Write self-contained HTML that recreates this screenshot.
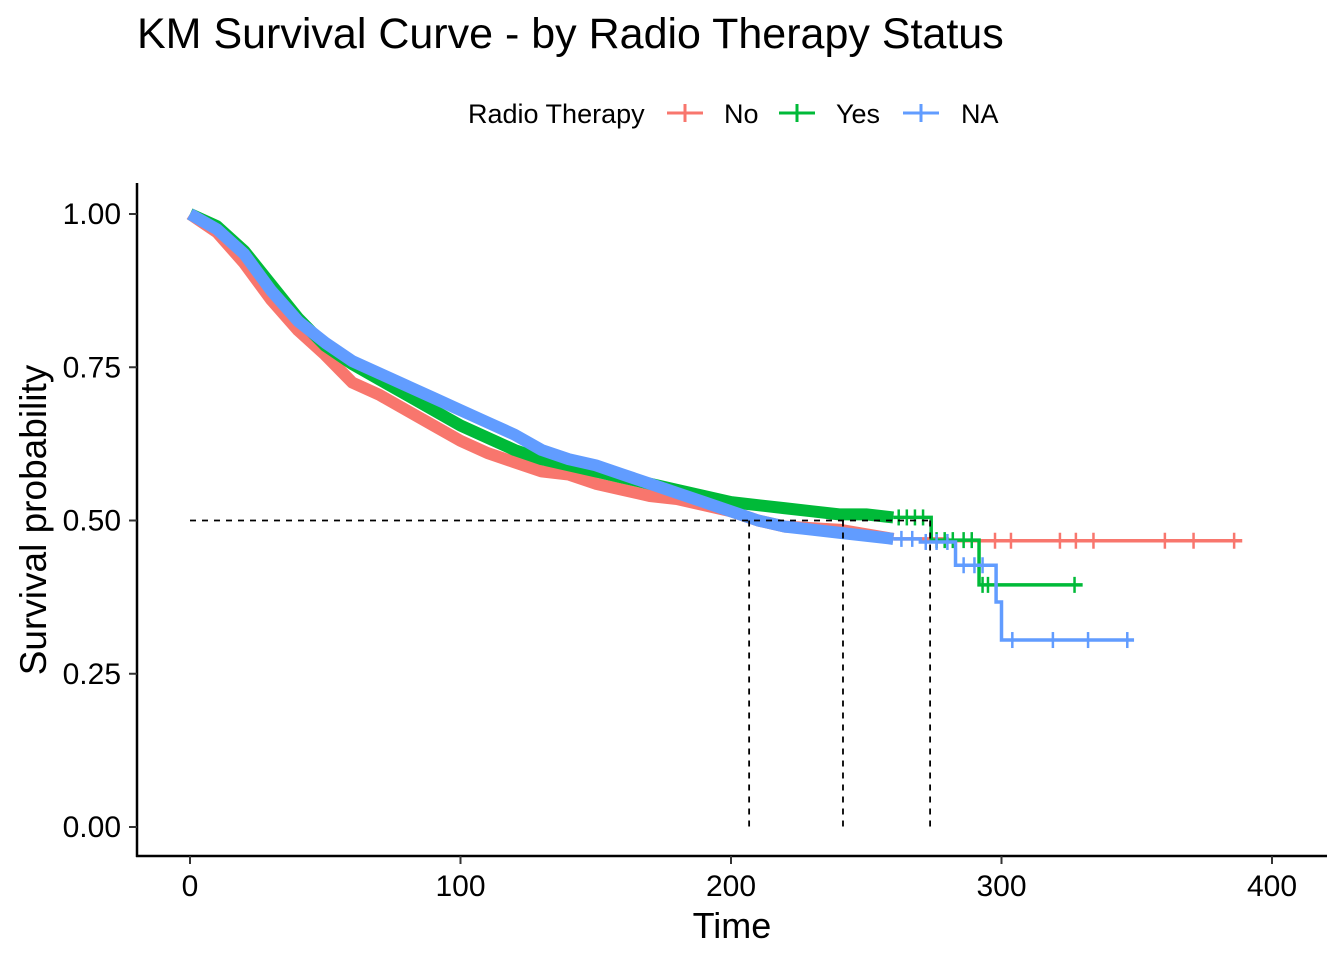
<!DOCTYPE html>
<html><head><meta charset="utf-8"><style>
body{margin:0;background:#fff}
svg{display:block;font-family:"Liberation Sans",Arial,sans-serif}
</style></head><body>
<svg id="chart" width="1344" height="960" viewBox="0 0 1344 960">
<text x="137" y="48" font-size="43" fill="#000">KM Survival Curve - by Radio Therapy Status</text>
<g>
<text x="468" y="123" font-size="27">Radio Therapy</text>
<g><line x1="667" y1="113" x2="703" y2="113" stroke="#F8766D" stroke-width="3"/><line x1="685" y1="104" x2="685" y2="122" stroke="#F8766D" stroke-width="3"/><text x="724" y="123" font-size="27">No</text></g>
<g><line x1="779" y1="113" x2="815" y2="113" stroke="#00BA38" stroke-width="3"/><line x1="797" y1="104" x2="797" y2="122" stroke="#00BA38" stroke-width="3"/><text x="836" y="123" font-size="27">Yes</text></g>
<g><line x1="903" y1="113" x2="939" y2="113" stroke="#619CFF" stroke-width="3"/><line x1="921" y1="104" x2="921" y2="122" stroke="#619CFF" stroke-width="3"/><text x="961" y="123" font-size="27">NA</text></g>
</g>
<g id="plot"></g>
<text x="732" y="938" font-size="36" text-anchor="middle">Time</text>
<text transform="translate(46,520) rotate(-90)" font-size="37" text-anchor="middle">Survival probability</text>
</svg>
<script>
const xTicks=[0,100,200,300,400];
const yTicks=[0,0.25,0.5,0.75,1];
const yTickLabels=["0.00","0.25","0.50","0.75","1.00"];
const medians=[206.7,241.4,273.6];
const noTimes=[0,10,20,30,40,50,60,70,80,90,100,110,120,130,140,150,160,170,180,190,200,210,220,240,260,280,389];
const noSurv=[1,0.97,0.92,0.86,0.81,0.77,0.725,0.705,0.68,0.655,0.63,0.61,0.595,0.58,0.575,0.56,0.55,0.54,0.535,0.525,0.515,0.5,0.49,0.485,0.47,0.467,0.467];
const noCensor=[297.6,303.5,321.6,327.5,334,360.4,371,386];
const yesTimes=[0,10,20,30,40,50,60,70,80,90,100,110,120,130,140,150,160,170,180,190,200,210,220,230,240,250,260,274,291.7,330];
const yesSurv=[1,0.98,0.94,0.885,0.83,0.785,0.755,0.73,0.705,0.68,0.655,0.635,0.615,0.6,0.59,0.58,0.57,0.56,0.55,0.54,0.53,0.525,0.52,0.515,0.51,0.51,0.505,0.468,0.395,0.395];
const yesCensor=[262,265,268,271,276,279,282,286,289,293,295,298,327];
const naTimes=[0,10,20,30,40,50,60,70,80,90,100,110,120,130,140,150,160,170,180,190,200,210,220,230,240,260,270,283,298,300,349];
const naSurv=[1,0.975,0.935,0.875,0.825,0.79,0.76,0.74,0.72,0.70,0.68,0.66,0.64,0.615,0.6,0.59,0.575,0.56,0.545,0.53,0.515,0.5,0.49,0.485,0.48,0.47,0.465,0.427,0.367,0.305,0.305];
const naCensor=[263,267,272,276,280,286,290,293,304,319,332,346.5];
const NS="http://www.w3.org/2000/svg";
const X=t=>190+2.705*t, Y=s=>827-613*s;
const g=document.getElementById('plot');
function mk(tag,at){const e=document.createElementNS(NS,tag);for(const k in at)e.setAttribute(k,at[k]);g.appendChild(e);return e;}
let ax=mk('line',{x1:137,y1:183,x2:137,y2:857,stroke:'#000','stroke-width':2.5});


ax=mk('line',{x1:136,y1:856,x2:1327,y2:856,stroke:'#000','stroke-width':2.5});


yTicks.forEach((v,i)=>{mk('line',{x1:129,x2:137,y1:Y(v),y2:Y(v),stroke:'#333','stroke-width':2});
const t=mk('text',{x:121,y:Y(v)+10,'font-size':30,'text-anchor':'end',fill:'#000'});t.textContent=yTickLabels[i];

});
xTicks.forEach(v=>{mk('line',{x1:X(v),x2:X(v),y1:856,y2:864,stroke:'#333','stroke-width':2});
const t=mk('text',{x:X(v),y:896,'font-size':30,'text-anchor':'middle',fill:'#000'});t.textContent=v;

});
function series(times,surv,cens,col,name){
 let bd='M'+X(times[0])+','+Y(surv[0]);
 let last=0;
 for(let i=1;i<times.length&&times[i]<=262;i++){bd+=' L'+X(times[i])+','+Y(surv[i]);last=i;}
 const band=mk('path',{d:bd,fill:'none',stroke:col,'stroke-width':12,'stroke-linejoin':'round'});
 
 
 let d='M'+X(times[last])+','+Y(surv[last]);
 for(let i=last+1;i<times.length;i++){
  d+=' L'+X(times[i])+','+Y(surv[i-1])+' L'+X(times[i])+','+Y(surv[i]);
 }
 const p=mk('path',{d:d,fill:'none',stroke:col,'stroke-width':3.5});
 
 
 cens.forEach(c=>{let s=surv[0];for(let i=0;i<times.length;i++){if(times[i]<=c)s=surv[i];}
  const m=mk('line',{x1:X(c),x2:X(c),y1:Y(s)-8,y2:Y(s)+8,stroke:col,'stroke-width':2.5});
  
  });
}
series(noTimes,noSurv,noCensor,'#F8766D','no-series');
series(yesTimes,yesSurv,yesCensor,'#00BA38','yes-series');
series(naTimes,naSurv,naCensor,'#619CFF','na-series');
const hl=mk('line',{x1:X(0),x2:X(medians[2]),y1:Y(0.5),y2:Y(0.5),stroke:'#000','stroke-width':1.8,'stroke-dasharray':'6,6'});


medians.forEach(m=>{const l=mk('line',{x1:X(m),x2:X(m),y1:Y(0.5),y2:Y(0),stroke:'#000','stroke-width':1.8,'stroke-dasharray':'6,6'});

});
</script>
</body></html>
